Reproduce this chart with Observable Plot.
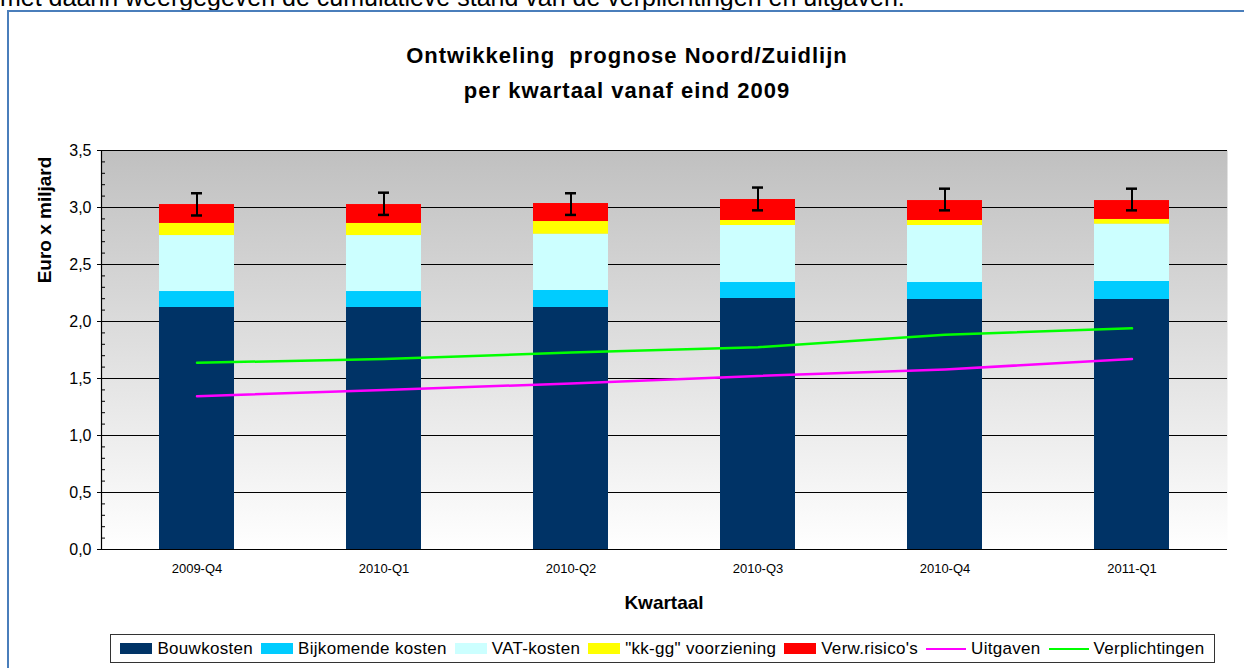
<!DOCTYPE html>
<html>
<head>
<meta charset="utf-8">
<script src="https://cdn.jsdelivr.net/npm/d3@7"></script>
<script src="https://cdn.jsdelivr.net/npm/@observablehq/plot@0.6"></script>
<style>
  html, body { margin: 0; padding: 0; background: #fff; width: 1244px; height: 668px; overflow: hidden; font-family: Arial, "Liberation Sans", sans-serif; }
  #toptext { position: absolute; left: 0; top: -17px; font-size: 25px; color: #000; white-space: nowrap; }
  #frame { position: absolute; left: 7px; top: 10px; width: 1260px; height: 700px; border: 2px solid #4a7ebb; box-sizing: border-box; }
  #title { position: absolute; left: 0; width: 1254px; top: 38px; text-align: center; font-weight: bold; font-size: 22px; letter-spacing: 1px; line-height: 35px; color: #000; }
  #chart { position: absolute; left: 0; top: 130px; }
  #ylabel { position: absolute; left: 45px; top: 220px; transform: translate(-50%, -50%) rotate(-90deg); font-weight: bold; font-size: 19px; white-space: nowrap; }
  #xlabel { position: absolute; left: 664px; top: 603px; transform: translate(-50%, -50%); font-weight: bold; font-size: 19px; }
  #legend { position: absolute; left: 110px; top: 634px; width: 1105px; height: 29px; border: 1px solid #333; box-sizing: border-box; display: flex; align-items: center; justify-content: center; font-size: 17px; letter-spacing: 0.3px; background: #fff; }
  .item { display: flex; align-items: center; margin: 0 4px; white-space: nowrap; }
  .sw { width: 32px; height: 11px; margin-right: 5px; }
  .ln { width: 40px; height: 2px; margin-right: 5px; }
</style>
</head>
<body>
<div id="toptext">met daarin weergegeven de cumulatieve stand van de verplichtingen en uitgaven.</div>
<div id="frame"></div>
<div id="title">Ontwikkeling&nbsp; prognose Noord/Zuidlijn<br>per kwartaal vanaf eind 2009</div>
<div id="chart"></div>
<div id="ylabel">Euro x miljard</div>
<div id="xlabel">Kwartaal</div>
<div id="legend"></div>
<script>
// ---- Data (Euro x miljard) ----
const quarters = ["2009-Q4", "2010-Q1", "2010-Q2", "2010-Q3", "2010-Q4", "2011-Q1"];
const seriesNames = ["Bouwkosten", "Bijkomende kosten", "VAT-kosten", "\"kk-gg\" voorziening", "Verw.risico's"];
const seriesColors = ["#003366", "#00ccff", "#ccffff", "#ffff00", "#ff0000"];
const bouwkosten = [2.123, 2.123, 2.123, 2.202, 2.193, 2.193];
const bijkomendeKosten = [0.140, 0.140, 0.149, 0.140, 0.149, 0.158];
const vatKosten = [0.491, 0.491, 0.494, 0.500, 0.500, 0.503];
const kkggVoorziening = [0.106, 0.106, 0.111, 0.044, 0.044, 0.041];
const verwRisicos = [0.166, 0.166, 0.158, 0.184, 0.175, 0.166];
const errorLow = [2.930, 2.935, 2.935, 2.975, 2.975, 2.975];
const errorHigh = [3.125, 3.130, 3.125, 3.175, 3.165, 3.165];
const uitgaven = [1.345, 1.400, 1.456, 1.523, 1.580, 1.670];
const verplichtingen = [1.638, 1.670, 1.728, 1.775, 1.883, 1.940];
const lineNames = ["Uitgaven", "Verplichtingen"];
const lineColors = ["#ff00ff", "#00ff00"];
const yTicks = [0, 0.5, 1.0, 1.5, 2.0, 2.5, 3.0, 3.5];
const yMinorTicks = d3.range(0, 36).map(i => i / 10);

// ---- Build tables ----
const seriesValues = [bouwkosten, bijkomendeKosten, vatKosten, kkggVoorziening, verwRisicos];
const stackTable = [];
seriesNames.forEach((s, si) => quarters.forEach((q, qi) => stackTable.push({quarter: q, series: s, value: seriesValues[si][qi]})));
const errTable = quarters.map((q, i) => ({quarter: q, lo: errorLow[i], hi: errorHigh[i]}));
const lineTable = [];
[uitgaven, verplichtingen].forEach((arr, li) => quarters.forEach((q, qi) => lineTable.push({quarter: q, name: lineNames[li], value: arr[qi]})));

const fmt = d => d.toFixed(1).replace(".", ",");

const marks = [
  Plot.frame({fill: "url(#bgGrad)", stroke: "none"}),
  Plot.ruleY(yTicks, {stroke: "#000", strokeWidth: 1.2}),
  Plot.barY(stackTable, {x: "quarter", y: "value", fill: "series"}),
  Plot.line(lineTable.filter(d => d.name === "Uitgaven"), {x: "quarter", y: "value", stroke: lineColors[0], strokeWidth: 2.5}),
  Plot.line(lineTable.filter(d => d.name === "Verplichtingen"), {x: "quarter", y: "value", stroke: lineColors[1], strokeWidth: 2.5}),
  Plot.ruleX(errTable, {x: "quarter", y1: "lo", y2: "hi", stroke: "#000", strokeWidth: 2}),
  Plot.tickY(errTable, {x: "quarter", y: "lo", stroke: "#000", strokeWidth: 2.5, insetLeft: 32, insetRight: 32}),
  Plot.tickY(errTable, {x: "quarter", y: "hi", stroke: "#000", strokeWidth: 2.5, insetLeft: 32, insetRight: 32}),
  Plot.frame({anchor: "left", stroke: "#000", strokeWidth: 1.2})
];
if (typeof Plot.axisY === "function") {
  marks.push(Plot.axisY(yMinorTicks, {tickSize: -4, tickFormat: () => "", stroke: "#000", strokeOpacity: 1}));
  marks.push(Plot.axisY(yTicks, {tickFormat: fmt, tickSize: 4, tickPadding: 6, fontSize: 16, stroke: "#000", strokeOpacity: 1, label: null}));
}

const chart = Plot.plot({
  width: 1244,
  height: 490,
  marginLeft: 101,
  marginRight: 17,
  marginTop: 20,
  marginBottom: 71,
  style: {fontFamily: "Arial, 'Liberation Sans', sans-serif", background: "transparent", color: "#000"},
  x: {domain: quarters, paddingInner: 0.6, paddingOuter: 0.3, label: null, tickSize: 0, tickPadding: 14},
  y: {domain: [0, 3.5], ticks: yTicks, tickFormat: fmt, tickSize: 4, tickPadding: 6, label: null},
  color: {domain: seriesNames, range: seriesColors},
  marks
});

// gradient definition for the plot background
const ns = "http://www.w3.org/2000/svg";
const defs = document.createElementNS(ns, "defs");
defs.innerHTML = '<linearGradient id="bgGrad" x1="0" y1="0" x2="0" y2="1"><stop offset="0" stop-color="#c0c0c0"/><stop offset="1" stop-color="#ffffff"/></linearGradient>';
chart.insertBefore(defs, chart.firstChild);

// axis font sizes
chart.querySelectorAll('g[aria-label="y-axis tick label"] text').forEach(t => t.style.fontSize = "16px");
chart.querySelectorAll('g[aria-label="x-axis tick label"] text, g[aria-label="x-axis"] text').forEach(t => t.style.fontSize = "13px");

document.getElementById("chart").appendChild(chart);

// legend
const legend = document.getElementById("legend");
seriesNames.forEach((s, i) => {
  const it = document.createElement("div"); it.className = "item";
  it.innerHTML = `<div class="sw" style="background:${seriesColors[i]}"></div><span></span>`;
  it.querySelector("span").textContent = s;
  legend.appendChild(it);
});
lineNames.forEach((s, i) => {
  const it = document.createElement("div"); it.className = "item";
  it.innerHTML = `<div class="ln" style="background:${lineColors[i]}"></div><span></span>`;
  it.querySelector("span").textContent = s;
  legend.appendChild(it);
});
</script>
</body>
</html>
